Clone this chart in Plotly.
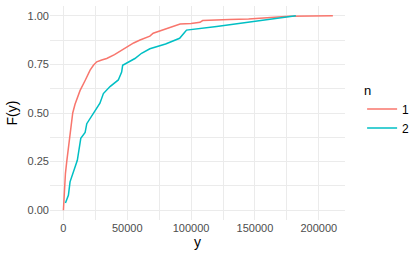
import plotly.graph_objects as go

# ECDF values
y_n1 = [0, 800, 1600, 2600, 4000, 5500, 7300, 9100, 11000, 13000, 17000, 20900, 23500, 26100, 30000, 33900,
        40000, 45000, 49500, 55000, 60000, 64000, 67700, 70300, 75000, 80000, 85000, 91400, 100000,
        107000, 109000, 117000, 130000, 145000, 156000, 170000, 177000, 211000]
F_n1 = [0, 0.125, 0.19, 0.25, 0.33, 0.42, 0.50, 0.545, 0.585, 0.615, 0.667, 0.72, 0.745, 0.763, 0.772, 0.78,
        0.80, 0.82, 0.84, 0.86, 0.875, 0.885, 0.895, 0.91, 0.92, 0.93, 0.94, 0.957, 0.96,
        0.966, 0.975, 0.978, 0.98, 0.983, 0.987, 0.993, 0.997, 1.0]

y_n2 = [1600, 3900, 5200, 8400, 10900, 13600, 17000, 18300, 23400, 28600, 31300, 36500, 43000, 45600,
        46400, 56000, 61200, 67700, 80000, 91000, 95000, 96400, 120000, 150000, 182000]
F_n2 = [0.037, 0.077, 0.146, 0.21, 0.257, 0.37, 0.40, 0.445, 0.50, 0.55, 0.60, 0.636, 0.67, 0.71,
        0.745, 0.78, 0.807, 0.83, 0.855, 0.884, 0.915, 0.926, 0.945, 0.97, 1.0]

series_names = ["1", "2"]
colors = ["#F8766D", "#00BFC4"]
x_ticks = [0, 50000, 100000, 150000, 200000]
y_ticks = [0, 0.25, 0.5, 0.75, 1.0]

fig = go.Figure()
for name, xs, fs, c in [(series_names[0], y_n1, F_n1, colors[0]), (series_names[1], y_n2, F_n2, colors[1])]:
    fig.add_trace(go.Scatter(x=xs, y=fs, mode="lines", name=name,
                             line=dict(color=c, width=1.5)))

grid = "#EBEBEB"
fig.update_layout(
    width=415, height=259,
    margin=dict(l=50, r=70, t=6, b=39, autoexpand=False),
    paper_bgcolor="white", plot_bgcolor="white",
    font=dict(family="Liberation Sans, Arial, sans-serif", color="#000000"),
    showlegend=True,
    legend=dict(title=dict(text="n", font=dict(size=13, color="#000000")),
                x=1.058, xanchor="left", y=0.665, yanchor="top",
                font=dict(size=12, color="#000000"), tracegroupgap=0, itemwidth=30,
                bgcolor="rgba(0,0,0,0)"),
    xaxis=dict(range=[-10500, 220500], tickvals=x_ticks, tickformat="d", automargin=False,
               showgrid=True, gridcolor=grid, gridwidth=1.1, zeroline=False,
               showline=False, ticks="", tickfont=dict(size=11, color="#4D4D4D"),
               title=dict(text="y", font=dict(size=14, color="#000000"), standoff=4),
               minor=dict(tickvals=[25000, 75000, 125000, 175000], showgrid=True,
                          gridcolor=grid, gridwidth=0.6)),
    yaxis=dict(range=[-0.05, 1.05], tickvals=y_ticks, tickformat=".2f", automargin=False,
               showgrid=True, gridcolor=grid, gridwidth=1.1, zeroline=False,
               showline=False, ticks="", tickfont=dict(size=11, color="#4D4D4D"),
               title=dict(text="F(y)", font=dict(size=14, color="#000000"), standoff=6),
               minor=dict(tickvals=[0.125, 0.375, 0.625, 0.875], showgrid=True,
                          gridcolor=grid, gridwidth=0.6)),
)

fig.write_html("out.html", config={"displayModeBar": False},
               post_script="document.body.style.margin='0';")
